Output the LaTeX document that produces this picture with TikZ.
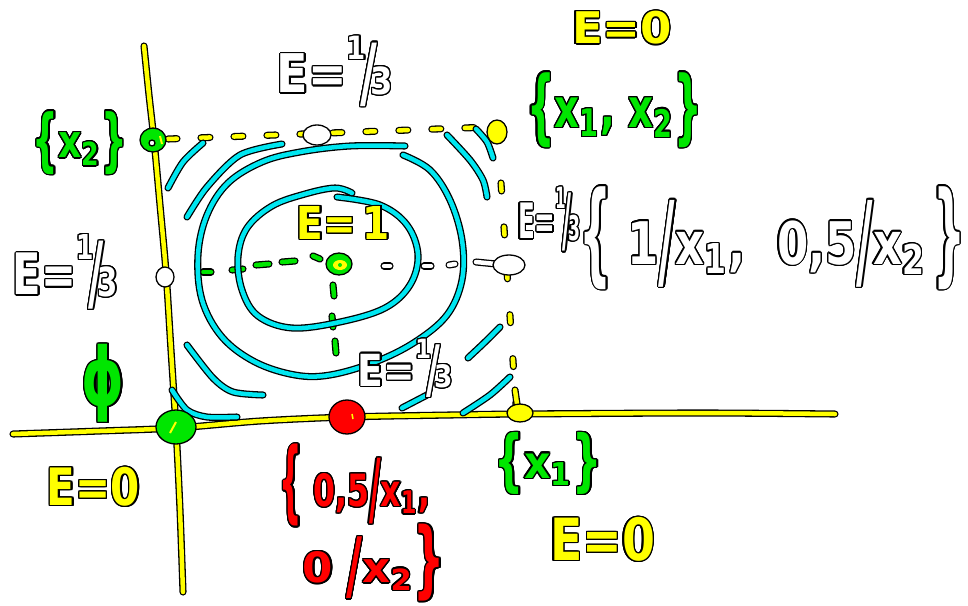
\documentclass[tikz,border=0pt]{standalone}
\usepackage{fontspec}
\setmainfont{DejaVu Sans}
\usepackage{graphicx}
\usepackage{contour}
\contourlength{1.3pt}
\contournumber{20}
\definecolor{hy}{RGB}{255,255,0}
\definecolor{hg}{RGB}{0,230,0}
\definecolor{hc}{RGB}{0,230,240}
\definecolor{hr}{RGB}{255,0,0}
\tikzset{
 pen/.style={line width=1.3pt, double=#1, double distance=4.5pt, line cap=round, line join=round},
 blob/.style={fill=#1, draw=black, line width=1.3pt},
 lab/.style={inner sep=0pt, outer sep=0pt},
}
\newcommand\lbl[4]{\textcolor{#1}{\contour{black}{\resizebox*{#2pt}{#3pt}{\bfseries #4}}}}
\newcommand\third{\raisebox{0.62em}{\scalebox{0.6}{1}}\kern-0.12em\raisebox{-0.12em}{\scalebox{1}[1.45]{/}}\kern-0.15em\raisebox{-0.03em}{\scalebox{0.7}{3}}}
\newcommand\Lb[1][1.5]{\raisebox{-0.12em}{\scalebox{1}[#1]{\{}}}
\newcommand\Rb[1][1.5]{\raisebox{-0.12em}{\scalebox{1}[#1]{\}}}}
\newcommand\bsl{\raisebox{-0.22em}{\scalebox{1}[1.8]{/}}}
\begin{document}
\begin{tikzpicture}[x=1pt,y=-1pt]
\useasboundingbox (0,0) rectangle (968,605);
\fill[white] (0,0) rectangle (968,605);
% axes
\draw[pen=hy] plot[smooth] coordinates {(144,46) (149,95) (154,140) (160,205) (166,272) (171,350) (176,428) (180,510) (183,592)};
\draw[pen=hy] plot[smooth] coordinates {(13,434) (100,431) (176,428) (260,421) (347,417) (450,415) (520,414) (700,413) (835,414)};
% dashed bounds
\draw[pen=hy, dash pattern=on 9pt off 24pt] (168,139) -- (490,127);
\draw[pen=hy, dash pattern=on 8pt off 36pt] (501,183) -- (516,405);
\draw[pen=hy] (515,390) -- (517,404);
% green / white dashes
\foreach \a/\b in {{(203,272)/(211,272)},{(232,270)/(243,269)},{(256,265)/(269,264)},{(282,262)/(295,261)},{(313,256)/(320,259)},{(333,285)/(334,296)},{(332,316)/(333,327)},{(335,341)/(336,353)}}
  \draw[pen=hg] \a -- \b;
\foreach \a/\b in {{(384,266)/(390,266)},{(424,266)/(431,266)},{(449,265)/(455,264)},{(476,262)/(496,264)}}
  \draw[pen=white] \a -- \b;
% contours
\draw[pen=hc] plot[smooth, tension=0.6] coordinates {(337,197) (380,205) (407,225) (418,255) (410,285) (385,308) (340,322) (292,328) (258,316) (242,290) (238,257) (247,228) (272,206) (305,194) (335,188) (352,193)};
\draw[pen=hc] plot[smooth, tension=0.6] coordinates {(403,155) (430,170) (450,200) (462,240) (462,280) (447,315) (415,342) (375,362) (330,375) (295,375) (255,362) (222,337) (202,300) (198,255) (207,215) (228,183) (262,162) (300,152) (350,146) (405,146)};
\draw[pen=hc] plot[smooth] coordinates {(203,143) (183,162) (168,188)};
\draw[pen=hc] plot[smooth] coordinates {(282,144) (240,155) (207,187) (187,217)};
\draw[pen=hc] plot[smooth] coordinates {(447,135) (470,160) (483,180) (487,197)};
\draw[pen=hc] plot[smooth] coordinates {(476,129) (487,142) (493,158)};
\draw[pen=hc] plot[smooth] coordinates {(187,345) (213,378) (233,392) (263,395)};
\draw[pen=hc] plot[smooth] coordinates {(172,390) (187,410) (207,417) (237,417)};
\draw[pen=hc] plot[smooth] coordinates {(500,327) (485,342) (468,358)};
\draw[pen=hc] (427,395) -- (402,408);
\draw[pen=hc] plot[smooth] coordinates {(510,377) (490,395) (463,413)};
% blobs
\filldraw[blob=hg] (153,140) ellipse (13 and 12);
\draw[hy, line width=2pt] (160,136) -- (162,144);
\filldraw[blob=white] (152,143) circle (3);
\filldraw[blob=white] (165,277) ellipse (9 and 10);
\filldraw[blob=white] (317,135) ellipse (14 and 10);
\filldraw[blob=hy] (497,132) ellipse (10 and 12);
\filldraw[blob=white] (509,265) ellipse (16 and 10);
\filldraw[blob=hg] (339,264) ellipse (13 and 11);
\fill[hy] (340,265) ellipse (7 and 5);
\fill[hg] (340,265) circle (2);
\filldraw[blob=hg] (176,427) ellipse (20 and 17);
\draw[hy, line width=2pt] (170,433) -- (176,422);
\filldraw[blob=hr] (347,417) ellipse (18 and 17);
\draw[hy, line width=1.5pt] (352,414) -- (353,419);
\filldraw[blob=hy] (520,413) ellipse (13 and 9);
% labels
\node[lab] (e0top) at (622,28.5) {\lbl{hy}{100}{33}{E=0}};
\node[lab] (s12) at (614.5,110.5) {\lbl{hg}{175}{75}{\Lb x\textsubscript{1}, x\textsubscript{2}\Rb}};
\node[lab] (e3top) at (335,72) {\lbl{white}{116}{70}{E=\third}};
\node[lab] (s2) at (80,143.5) {\lbl{hg}{94}{63}{\Lb x\textsubscript{2}\Rb}};
\node[lab] (e3left) at (65.5,272.5) {\lbl{white}{105}{75}{E=\third}};
\node[lab] (e1) at (343.5,223.5) {\lbl{hy}{93}{33}{E=\,1}};
\node[lab] (e3right) at (549,220) {\lbl{white}{62}{64}{E=\third}};
\node[lab] (pt) at (772.5,238.5) {\lbl{white}{385}{103}{\Lb[1.9]\hspace{.35em}1\bsl x\textsubscript{1},\hspace{.7em}0,5\bsl x\textsubscript{2}\hspace{.15em}\Rb[1.9]}};
\node[lab] (e3low) at (405.5,369) {\lbl{white}{95}{58}{E=\third}};
\node[lab] (phi) at (103.5,384) {\lbl{hg}{43}{78}{ϕ}};
\node[lab] (e0left) at (93.5,487.5) {\lbl{hy}{93}{39}{E=0}};
\node[lab] (red1) at (355,486) {\lbl{hr}{150}{82}{\Lb[2] 0,5\bsl x\textsubscript{1},}};
\node[lab] (red2) at (374,563.5) {\lbl{hr}{142}{77}{0\hspace{.3em}\bsl x\textsubscript{2}\Rb[2]}};
\node[lab] (s1) at (548.5,464) {\lbl{hg}{107}{62}{\Lb x\textsubscript{1}\Rb}};
\node[lab] (e0lr) at (602.5,540) {\lbl{hy}{105}{44}{E=0}};
\end{tikzpicture}
\end{document}
